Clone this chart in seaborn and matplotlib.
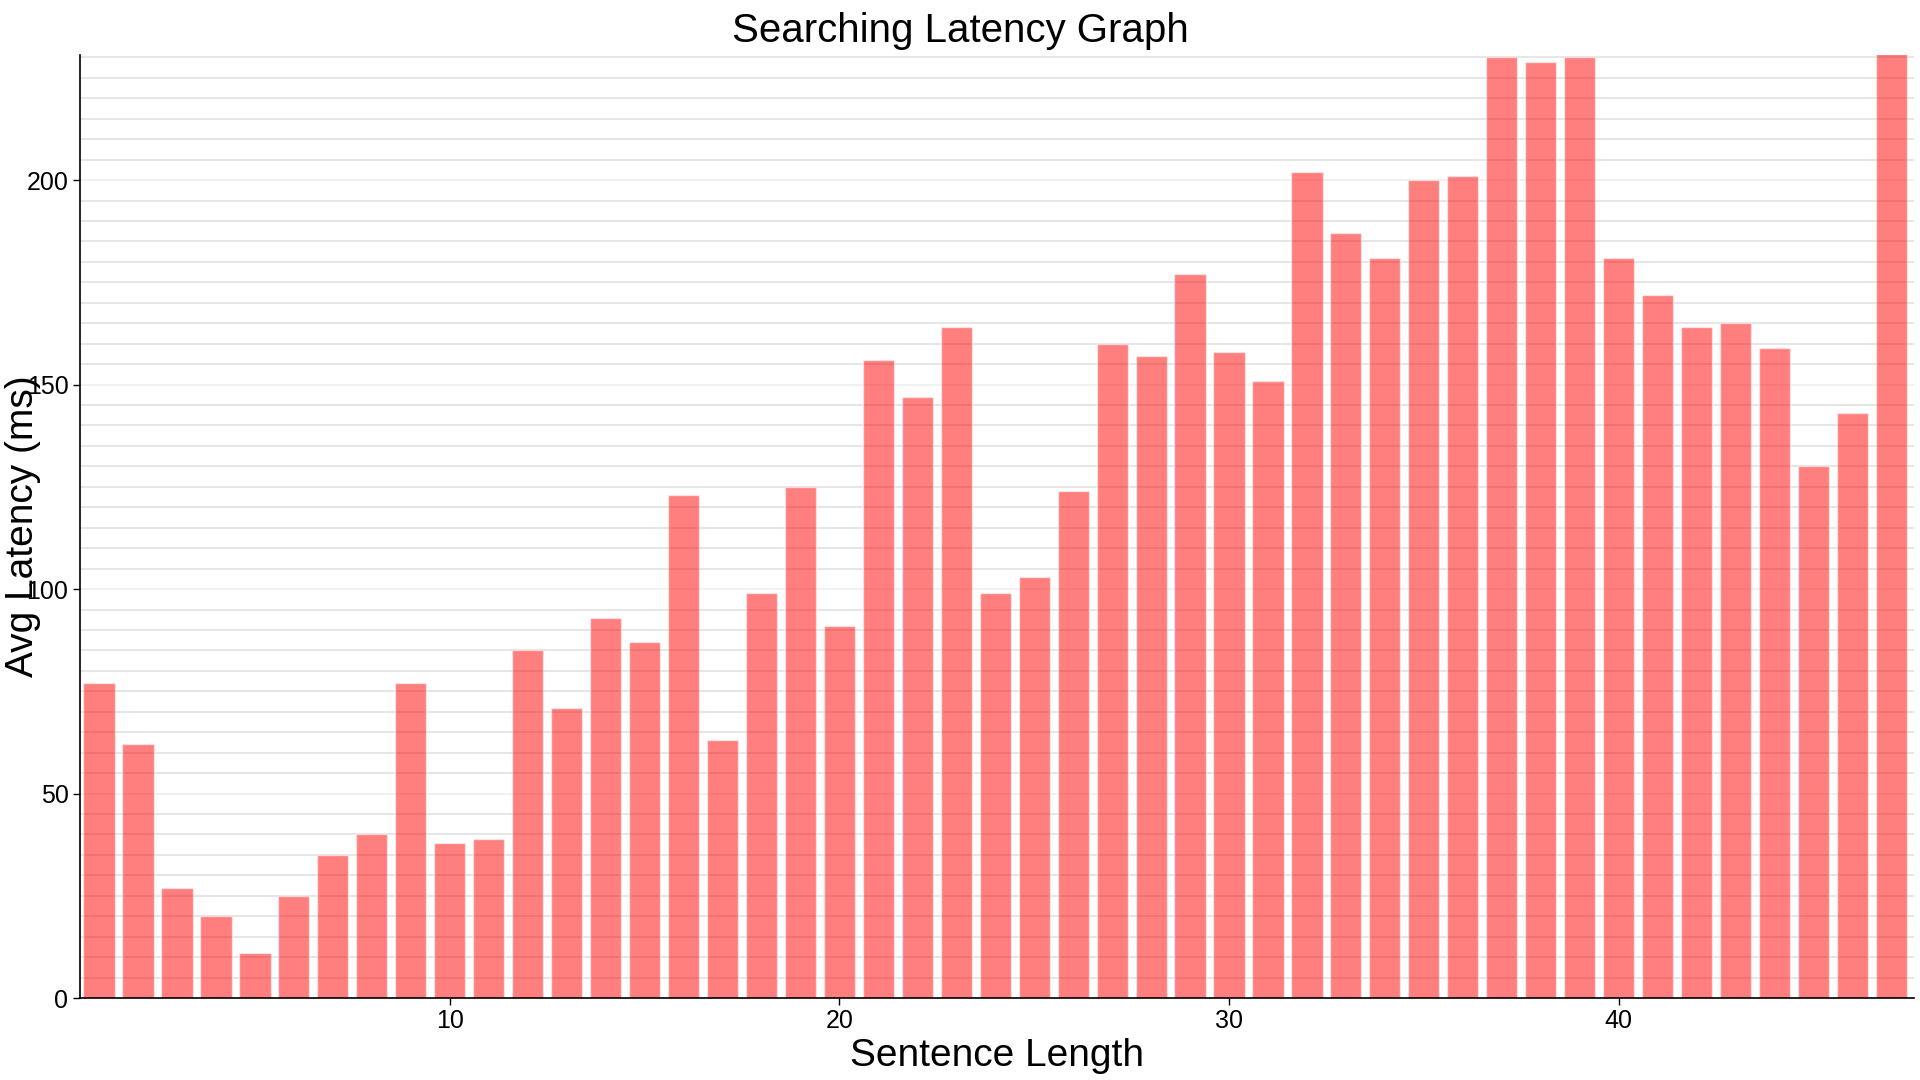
import matplotlib
matplotlib.use("Agg")
import matplotlib.pyplot as plt
import numpy as np
import pandas as pd
import seaborn as sns
from matplotlib.ticker import MultipleLocator, FixedLocator

# ---- data ----
sentence_length = list(range(1, 48))
avg_latency = [77, 62, 27, 20, 11, 25, 35, 40, 77, 38,
               39, 85, 71, 93, 87, 123, 63, 99, 125, 91,
               156, 147, 164, 99, 103, 124, 160, 157, 177, 158,
               151, 202, 187, 181, 200, 201, 230, 229, 230, 181,
               172, 164, 165, 159, 130, 143, 240]
x_ticks = [10, 20, 30, 40]
y_ticks = [0, 50, 100, 150, 200]

title_text = "Searching Latency Graph"
x_label = "Sentence Length"
y_label = "Avg Latency (ms)"

sns.set_theme(style="white")
plt.rcParams["font.family"] = ["Liberation Sans", "DejaVu Sans"]

fig = plt.figure(figsize=(19.2, 10.8), dpi=100)
ax = fig.add_axes([79.6 / 1920, 82 / 1080, (1914 - 79.6) / 1920, (998 - 55) / 1080])

df = pd.DataFrame({"len": sentence_length, "lat": avg_latency})
sns.barplot(data=df, x="len", y="lat", native_scale=True, color="#ff0000",
            saturation=1, alpha=0.5, width=0.8, errorbar=None, ax=ax, zorder=2)

ax.set_xlim(0.5, 47.58)
ax.set_ylim(0, 230.6)

ax.xaxis.set_major_locator(FixedLocator(x_ticks))
ax.yaxis.set_major_locator(FixedLocator(y_ticks))
ax.yaxis.set_minor_locator(MultipleLocator(5))

ax.set_axisbelow(True)
ax.grid(False)
ax.yaxis.grid(True, which="minor", color="#e2e2e2", linewidth=1.2, zorder=0)
ax.yaxis.grid(True, which="major", color="#efefef", linewidth=1.2, zorder=0)

for s in ["top", "right"]:
    ax.spines[s].set_visible(False)
for s in ["left", "bottom"]:
    ax.spines[s].set_color("black")
    ax.spines[s].set_linewidth(1.2)

ax.tick_params(axis="both", which="major", direction="out", length=5, width=1,
               color="black", labelsize=18, labelcolor="black", pad=3, left=True, bottom=True)
ax.tick_params(axis="y", which="minor", length=0)

ax.set_title(title_text, fontsize=29, color="black", pad=9, x=0.4799)
ax.set_xlabel(x_label, fontsize=28, color="black")
ax.set_ylabel(y_label, fontsize=28, color="black")
ax.xaxis.set_label_coords(0.5, -0.042)
ax.yaxis.set_label_coords(-0.031, 0.5)
ax.yaxis.label.set_verticalalignment("center")
ax.xaxis.label.set_verticalalignment("top")

fig.savefig("out.png", dpi=100, facecolor="white")
